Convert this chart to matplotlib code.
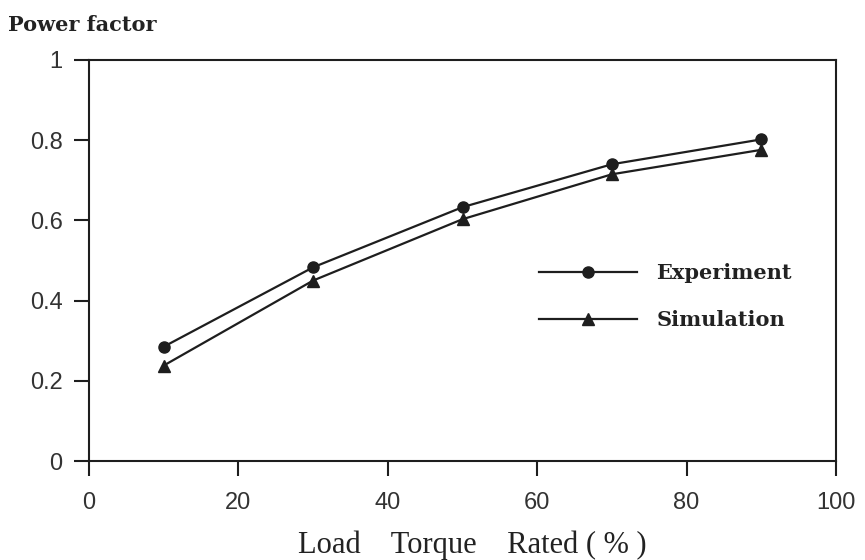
import matplotlib
matplotlib.use("Agg")
import matplotlib.pyplot as plt

load = [10, 30, 50, 70, 90]
experiment = [0.285, 0.483, 0.633, 0.740, 0.802]
simulation = [0.238, 0.450, 0.603, 0.715, 0.776]
xticks = [0, 20, 40, 60, 80, 100]
yticks = [0, 0.2, 0.4, 0.6, 0.8, 1]
ytick_labels = ["0", "0.2", "0.4", "0.6", "0.8", "1"]

fig = plt.figure(figsize=(8.65, 5.6), dpi=100)
ax = fig.add_axes([89/865, 1-461/560, (836-89)/865, (461-60)/560])

col = "#1e1e1e"
ax.plot(load, experiment, color=col, lw=1.6, marker="o", ms=8, label="Experiment")
ax.plot(load, simulation, color=col, lw=1.6, marker="^", ms=8.5, label="Simulation")

ax.set_xlim(0, 100)
ax.set_ylim(0, 1)
ax.set_xticks(xticks)
ax.set_yticks(yticks)
ax.set_yticklabels(ytick_labels)
for s in ax.spines.values():
    s.set_linewidth(1.5)
    s.set_color(col)
ax.tick_params(direction="out", length=11, width=1.5, color=col,
               labelsize=17, labelcolor="#333333")
ax.tick_params(axis="x", pad=11)
ax.tick_params(axis="y", pad=8)
for lbl in ax.get_xticklabels() + ax.get_yticklabels():
    lbl.set_family("Liberation Sans")

fig.text(472/865, 1-545/560, "Load    Torque    Rated ( % )", family="Liberation Serif",
         fontsize=22, ha="center", va="center", color="#222222")
fig.text(8/865, 1-25/560, "Power factor", family="DejaVu Serif",
         fontweight="bold", fontsize=15, va="center", ha="left", color="#222222")

leg = ax.legend(loc="center left", bbox_to_anchor=(0.602, 0.41), frameon=False,
                handlelength=4.7, labelspacing=1.3, handletextpad=0.95,
                borderpad=0, borderaxespad=0,
                prop={"family": "DejaVu Serif", "weight": "bold", "size": 15})
for t in leg.get_texts():
    t.set_color("#222222")

fig.savefig("out.png", dpi=100)
